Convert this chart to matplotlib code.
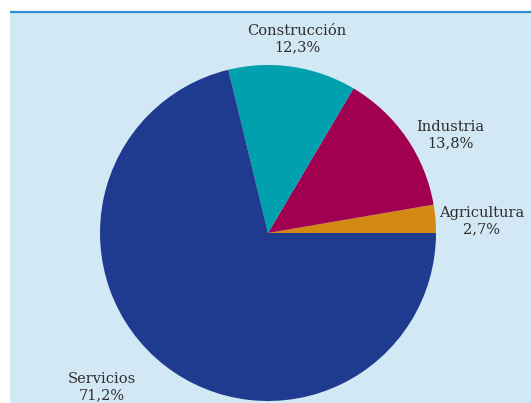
import matplotlib
matplotlib.use("Agg")
import matplotlib.pyplot as plt
from matplotlib.patches import Rectangle

# sector shares of employment (%)
sectors = ["Agricultura", "Industria", "Construcción", "Servicios"]
shares = [2.7, 13.8, 12.3, 71.2]
colors = ["#d38a12", "#a0004f", "#00a0ae", "#1e3b8f"]

# label anchor points in pixel space (x, y from top)
label_pos = [(482, 221), (450, 135), (297, 39), (102, 387)]

W, H = 531, 403
fig = plt.figure(figsize=(W / 100, H / 100), dpi=100)
ax = fig.add_axes([0, 0, 1, 1])

# light blue panel with a thin blue rule on top
ax.add_patch(Rectangle((10, 0), W - 10, H - 12, facecolor="#d3e8f5", edgecolor="none", zorder=0))
ax.plot([10, W], [H - 11.5, H - 11.5], color="#2b8fcf", lw=1.6, solid_capstyle="butt", zorder=1)

ax.pie(shares, colors=colors, startangle=0, counterclock=True,
       center=(268, H - 233), radius=168, frame=True,
       wedgeprops=dict(linewidth=0))
ax.set_xlim(0, W)
ax.set_ylim(0, H)
ax.set_aspect("equal")
ax.axis("off")

for name, val, (px, py) in zip(sectors, shares, label_pos):
    txt = name + "\n" + f"{val:.1f}".replace(".", ",") + "%"
    ax.text(px, H - py, txt, ha="center", va="center", fontsize=10.5,
            family="DejaVu Serif", color="#2e2e2e", linespacing=1.2, zorder=5)

fig.savefig("out.png", dpi=100)
